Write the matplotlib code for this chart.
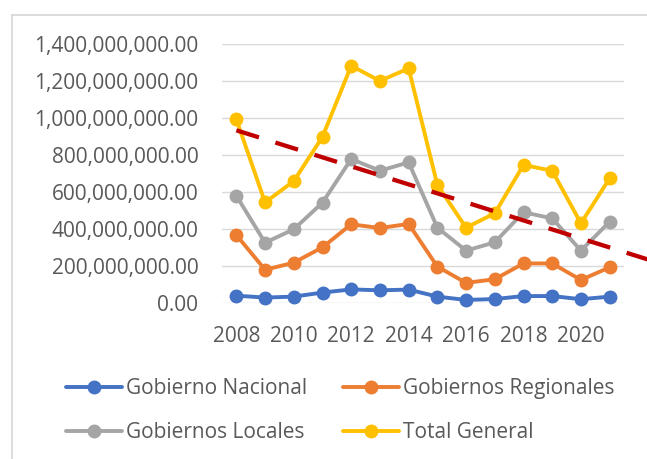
import matplotlib
matplotlib.use("Agg")
import matplotlib.pyplot as plt
from matplotlib.lines import Line2D
from matplotlib.ticker import FuncFormatter

plt.rcParams['font.family'] = ['Open Sans', 'DejaVu Sans']

years = [2008, 2009, 2010, 2011, 2012, 2013, 2014, 2015, 2016, 2017, 2018, 2019, 2020, 2021]
nacional = [41, 31, 36, 58, 75, 70, 74, 36, 18, 23, 39, 39, 22, 36]
regionales = [368, 181, 219, 302, 426, 406, 428, 198, 110, 130, 215, 215, 126, 194]
locales = [580, 327, 399, 543, 778, 715, 760, 408, 284, 329, 491, 458, 284, 440]
total = [992, 544, 659, 898, 1281, 1199, 1267, 638, 408, 485, 746, 715, 431, 674]
trend_years = [2008, 2022.4]
trend_values = [933, 233]
series_names = ["Gobierno Nacional", "Gobiernos Regionales", "Gobiernos Locales", "Total General"]
tick_years = [2008, 2010, 2012, 2014, 2016, 2018, 2020]

SCALE = 1e6
colors = ["#4472C4", "#ED7D31", "#A5A5A5", "#FFC000"]
text_color = "#595959"
fs = 15

fig = plt.figure(figsize=(6.47, 4.59), dpi=100)
ax = fig.add_axes([222/647, 1 - 303.3/459, 402/647, 259.6/459])

x = [y - years[0] for y in years]
handles = []
for vals, col, name in zip([nacional, regionales, locales, total], colors, series_names):
    h, = ax.plot(x, [v * SCALE for v in vals], color=col, lw=2.8, marker='o', ms=9,
                 label=name, solid_capstyle='round', solid_joinstyle='round', zorder=3, clip_on=False)
    handles.append(h)

tx = [y - years[0] for y in trend_years]
ax.plot(tx, [v * SCALE for v in trend_values], color="#C00000", lw=3.1,
        dashes=(5.5, 4), clip_on=False, zorder=4, solid_capstyle='butt')

ax.set_xlim(-0.5, len(years) - 0.5)
ax.set_ylim(0, 1.4e9)
ax.set_yticks([i * 2e8 for i in range(8)])
ax.yaxis.set_major_formatter(FuncFormatter(lambda v, p: f"{v:,.2f}"))
ax.set_xticks([y - years[0] for y in tick_years])
ax.set_xticklabels([str(y) for y in tick_years])
ax.grid(axis='y', color="#D9D9D9", lw=1.0, zorder=0)
ax.set_axisbelow(True)
for s in ax.spines.values():
    s.set_visible(False)
ax.tick_params(axis='both', length=0, labelsize=fs, labelcolor=text_color)
ax.tick_params(axis='y', pad=17)
ax.tick_params(axis='x', pad=16)

order = [0, 2, 1, 3]
leg = fig.legend([handles[i] for i in order], [series_names[i] for i in order],
                 ncol=2, frameon=False, loc='upper left',
                 bbox_to_anchor=(66/647, 1 - 378/459), borderpad=0, borderaxespad=0,
                 handlelength=2.7, handletextpad=0.2, columnspacing=1.7,
                 labelspacing=1.1, fontsize=fs, labelcolor=text_color, numpoints=1)

# chart border (left & top edges visible)
fig.add_artist(Line2D([11.5/647, 11.5/647], [0, 1 - 15/459], transform=fig.transFigure,
                      color="#D9D9D9", lw=1.3))
fig.add_artist(Line2D([11.5/647, 1], [1 - 15/459, 1 - 15/459], transform=fig.transFigure,
                      color="#D9D9D9", lw=1.3))

fig.savefig("out.png", dpi=100, facecolor="white")
